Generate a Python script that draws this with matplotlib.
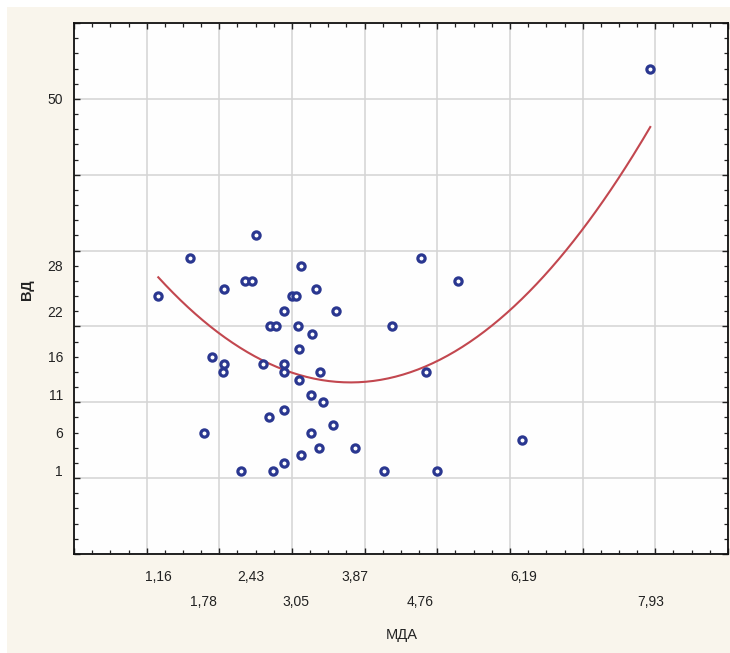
import matplotlib
matplotlib.use("Agg")
import matplotlib.pyplot as plt
import numpy as np
from matplotlib.ticker import MultipleLocator
from matplotlib.patches import Rectangle

plt.rcParams['font.family'] = ['Liberation Sans', 'DejaVu Sans']

# data (МДА, ВД)
mda = [1.16, 1.60, 1.79, 1.90, 2.07, 2.07, 2.05, 2.30, 2.50, 2.35,
       2.45, 2.60, 2.70, 2.78, 2.69, 2.74, 2.89, 2.89, 2.89, 2.89,
       2.89, 3.00, 3.05, 3.12, 3.08, 3.10, 3.09, 3.12, 3.33, 3.27,
       3.26, 3.26, 3.39, 3.43, 3.37, 3.61, 3.57, 3.87, 4.27, 4.38,
       4.78, 4.85, 4.99, 5.28, 6.17, 7.93]
vd = [24, 29, 6, 16, 25, 15, 14, 1, 32, 26,
      26, 15, 20, 20, 8, 1, 22, 15, 14, 9,
      2, 24, 24, 28, 20, 17, 13, 3, 25, 19,
      11, 6, 14, 10, 4, 22, 7, 4, 1, 20,
      29, 14, 1, 26, 5, 54]

xtick_row1 = [1.16, 2.43, 3.87, 6.19]
xtick_row2 = [1.78, 3.05, 4.76, 7.93]
yticks_lab = [1, 6, 11, 16, 22, 28, 50]

def fmt(v):
    return f"{v:.2f}".replace('.', ',')

W, H = 730, 653
fig = plt.figure(figsize=(W / 100, H / 100), dpi=100, facecolor='white')
fig.patches.append(Rectangle((7 / W, 0), 1, 1 - 7 / H, transform=fig.transFigure,
                             facecolor='#f9f5ec', edgecolor='none', zorder=-10))

ax = fig.add_axes([74 / W, (H - 554) / H, (728 - 74) / W, (554 - 23) / H])
ax.set_facecolor('#fefefe')
ax.set_xlim(0, 9)
ax.set_ylim(-10, 60)

# grid + tick marks
ax.xaxis.set_major_locator(MultipleLocator(1))
ax.xaxis.set_minor_locator(MultipleLocator(0.25))
ax.yaxis.set_major_locator(MultipleLocator(10))
ax.yaxis.set_minor_locator(MultipleLocator(2))
ax.grid(True, which='major', color='#d4d4d4', lw=1.1)
ax.set_axisbelow(True)
ax.tick_params(which='both', direction='in', top=True, right=True,
               labelbottom=False, labelleft=False, color='#222222')
ax.tick_params(which='major', length=4, width=1)
ax.tick_params(which='minor', length=3, width=0.9)
for s in ax.spines.values():
    s.set_color('#111111')
    s.set_linewidth(1.3)

# data points
ax.plot(mda, vd, linestyle='none', marker='o', ms=5.2, mew=2.3,
        mec='#2a3790', mfc='white', zorder=4)

# quadratic fit
coef = np.polyfit(mda, vd, 2)
xx = np.linspace(min(mda), max(mda), 200)
ax.plot(xx, np.polyval(coef, xx), color='#c2474f', lw=1.5, zorder=3)

# tick labels
sx1 = ax.secondary_xaxis('bottom')
sx1.set_xticks(xtick_row1, [fmt(v) for v in xtick_row1])
sx1.tick_params(length=0, pad=11.5, labelsize=10, labelcolor='#222222')
sx1.spines['bottom'].set_visible(False)
sx2 = ax.secondary_xaxis('bottom')
sx2.set_xticks(xtick_row2, [fmt(v) for v in xtick_row2])
sx2.tick_params(length=0, pad=29.5, labelsize=10, labelcolor='#222222')
sx2.spines['bottom'].set_visible(False)
sy = ax.secondary_yaxis('left')
sy.set_yticks(yticks_lab, [str(v) for v in yticks_lab])
sy.tick_params(length=0, pad=8, labelsize=10, labelcolor='#222222')
sy.spines['left'].set_visible(False)

fig.text(402 / W, 1 - 635 / H, 'МДА', ha='center', va='center', fontsize=10.5, color='#222222')
fig.text(27 / W, 1 - 290 / H, 'ВД', ha='center', va='center', rotation=90,
         fontsize=10.5, color='#222222', fontweight='bold')

fig.savefig('out.png', dpi=100, facecolor=fig.get_facecolor())
